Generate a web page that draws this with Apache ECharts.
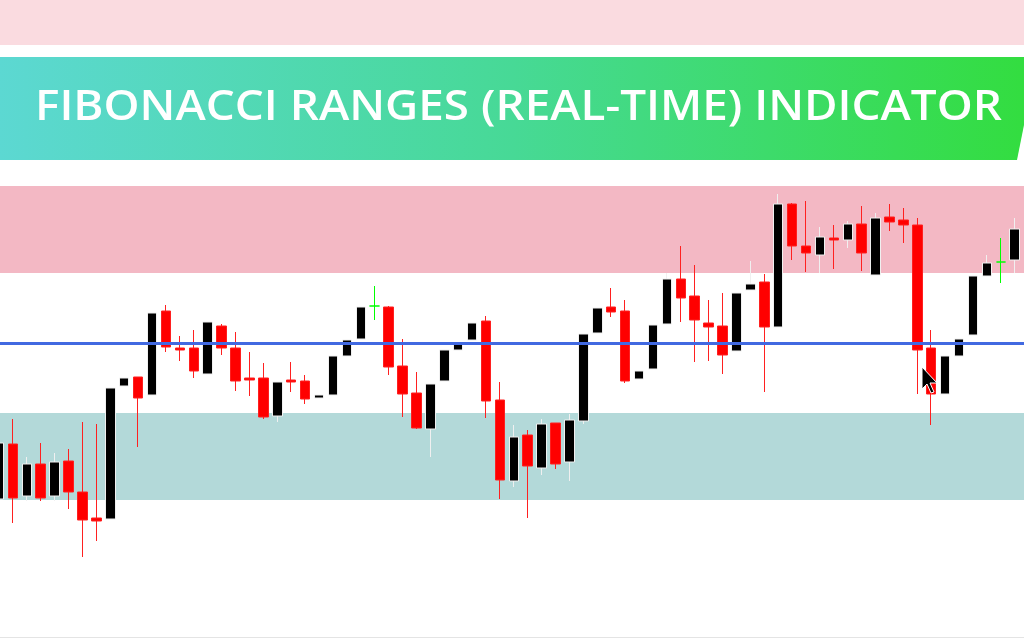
<!DOCTYPE html>
<html>
<head>
<meta charset="utf-8">
<script src="https://cdn.jsdelivr.net/npm/echarts@6/dist/echarts.min.js"></script>
<style>
html,body{margin:0;padding:0;background:#fff;}
#c{width:1024px;height:640px;}
</style>
</head>
<body>
<div id="c"></div>
<script>
// ---- data (price units) ----
const title = "FIBONACCI RANGES (REAL-TIME) INDICATOR";
const opens  = [141,196,144,176,144,179,148,122,121,254,263,245,329,292,292,266,314,292,262,262,224,260,259,242,245,284,301,334,333,274,247,211,259,290,300,319,240,159,205,172,217,178,219,307,333,329,261,271,316,361,344,317,314,289,350,358,313,436,394,385,402,400,416,365,423,420,415,292,246,284,305,364,378,380];
const closes = [197,142,176,142,178,148,120,119,252,262,242,327,293,290,269,318,292,259,260,223,258,258,241,245,284,300,333,334,273,246,212,256,290,296,317,239,160,203,174,216,176,220,306,332,328,259,269,315,361,342,320,313,285,347,356,313,436,394,387,403,400,416,387,422,418,415,290,246,284,301,364,377,378,411];
const lows   = [139,117,139,139,139,131, 83, 99,121,254,193,245,288,279,262,266,285,249,244,221,218,248,236,242,245,284,301,320,265,223,211,183,259,290,300,222,141,153,122,165,171,159,216,307,323,257,261,271,316,318,278,279,266,289,350,248,313,380,368,367,371,392,369,365,409,397,246,215,246,284,305,364,357,367];
const highs  = [199,221,183,197,187,191,218,216,252,262,263,327,335,304,310,318,316,308,288,277,258,278,265,245,284,300,333,354,334,301,268,256,290,296,317,324,258,215,210,221,217,226,306,332,352,340,269,315,367,394,375,340,347,347,379,366,446,437,439,413,415,419,434,427,436,432,422,310,284,301,364,385,402,422];
const dojiIdx = [27, 72];
const upperBand = [367, 454];   // pink zone
const lowerBand = [140, 227];   // teal zone
const midLine = 297;            // blue level
const yRange = [0, 640];
const xRange = [0.072, 73.666]; // visible bar-index window

const candleData = opens.map((o, i) => {
  const v = [i, o, closes[i], lows[i], highs[i]];
  if (dojiIdx.indexOf(i) >= 0) {
    return {value: v, itemStyle: {color: '#00ff00', color0: '#00ff00', borderColor: '#00ff00', borderColor0: '#00ff00'}};
  }
  return v;
});

const chart = echarts.init(document.getElementById('c'), null, {renderer: 'canvas'});
chart.setOption({
  animation: false,
  backgroundColor: '#ffffff',
  grid: [
    {left: 0, right: 0, top: 0, bottom: 0},
    {left: 0, right: 0, top: 0, bottom: 0}
  ],
  xAxis: [
    {type: 'value', gridIndex: 0, show: false, min: xRange[0], max: xRange[1]},
    {type: 'value', gridIndex: 1, show: false, min: 0, max: 1}
  ],
  yAxis: [
    {type: 'value', gridIndex: 0, show: false, min: yRange[0], max: yRange[1]},
    {type: 'value', gridIndex: 1, show: false, min: yRange[0], max: yRange[1]}
  ],
  series: [
    {
      type: 'line', xAxisIndex: 1, yAxisIndex: 1, z: 1, silent: true,
      data: [[0, -100]], showSymbol: false, lineStyle: {opacity: 0},
      markArea: {
        silent: true,
        data: [
          [{yAxis: upperBand[1], itemStyle: {color: '#f3b8c4'}}, {yAxis: upperBand[0]}],
          [{yAxis: lowerBand[1], itemStyle: {color: '#b3d9d9'}}, {yAxis: lowerBand[0]}]
        ]
      }
    },
    {
      type: 'candlestick', xAxisIndex: 0, yAxisIndex: 0, z: 2,
      barWidth: 10,
      clip: true,
      encode: {x: 0, y: [1, 2, 3, 4]},
      data: candleData,
      itemStyle: {
        color: '#000000', color0: '#ff0000',
        borderColor: '#f0f0f0', borderColor0: '#ff2020', borderWidth: 1
      }
    },
    {
      type: 'line', xAxisIndex: 1, yAxisIndex: 1, z: 3, silent: true,
      data: [[0, -100]], showSymbol: false, lineStyle: {opacity: 0},
      markLine: {
        silent: true, symbol: 'none', label: {show: false},
        lineStyle: {color: '#4169e1', width: 3, type: 'solid'},
        data: [{yAxis: midLine}]
      }
    }
  ],
  graphic: [
    {type: 'rect', left: 0, top: 0, z: 10, shape: {width: 1024, height: 45}, style: {fill: '#fadbe0'}},
    {type: 'polygon', z: 10,
      shape: {points: [[0, 57], [1024, 57], [1024, 125], [1017, 160], [0, 160]]},
      style: {fill: new echarts.graphic.LinearGradient(0, 0, 1, 0, [
        {offset: 0, color: '#5cd8d2'},
        {offset: 0.5, color: '#47d996'},
        {offset: 1, color: '#33dd40'}
      ])}
    },
    {type: 'text', z: 11, x: 35, y: 108, scaleX: 1.117,
      style: {text: title, fill: '#ffffff', font: '600 41px "Open Sans"', textVerticalAlign: 'middle', textAlign: 'left'}},
    {type: 'line', z: 10, shape: {x1: 0, y1: 637.5, x2: 1024, y2: 637.5}, style: {stroke: '#e4e4e4', lineWidth: 1}},
    {type: 'polygon', z: 12,
      shape: {points: [[922, 367], [922, 389], [927, 384], [931, 393], [934, 392], [930, 383], [937, 383]]},
      style: {fill: '#000000', stroke: '#ffffff', lineWidth: 1}
    }
  ]
});
</script>
</body>
</html>
